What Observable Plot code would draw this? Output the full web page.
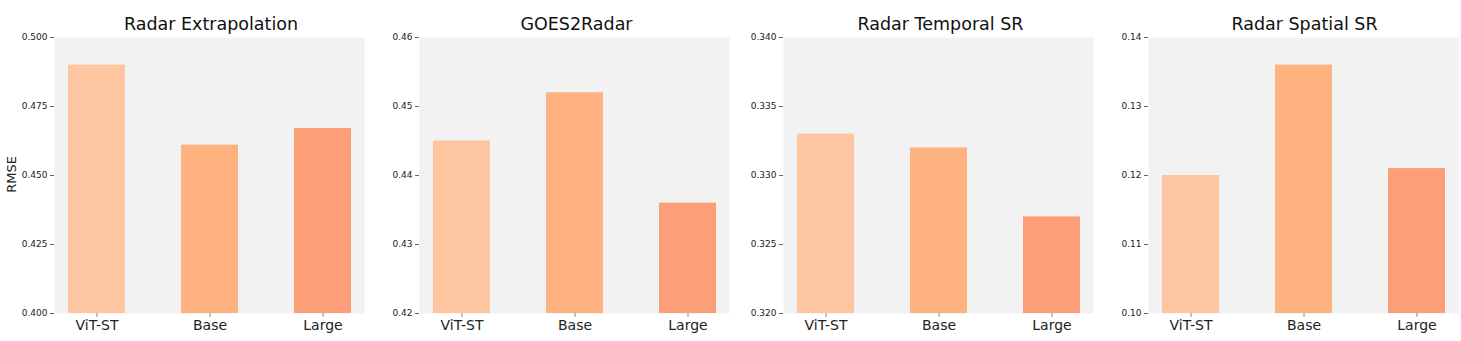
<!DOCTYPE html>
<html>
<head>
<meta charset="utf-8">
<script src="https://cdn.jsdelivr.net/npm/d3@7"></script>
<script src="https://cdn.jsdelivr.net/npm/@observablehq/plot@0.6"></script>
<style>
  body { margin: 0; background: #fff; font-family: "DejaVu Sans", sans-serif; }
  #root { position: relative; width: 1461px; height: 341px; overflow: hidden; }
  .panel { position: absolute; top: 0; }
  .title { height: 20px; padding-top: 14px; text-align: center; font-size: 17.5px; line-height: 20px; color: #111; white-space: nowrap; }
  .ylabel { position: absolute; left: -7px; top: 167px; transform: rotate(-90deg); font-size: 13px; color: #222; }
</style>
</head>
<body>
<div id="root"></div>
<script>
const models = ["ViT-ST", "Base", "Large"];
const colors = ["#fdc6a0", "#fdb27f", "#fc9e78"];

const titles = ["Radar Extrapolation", "GOES2Radar", "Radar Temporal SR", "Radar Spatial SR"];
const radarExtrapolation = [0.490, 0.461, 0.467];
const goes2Radar = [0.445, 0.452, 0.436];
const radarTemporalSR = [0.333, 0.332, 0.327];
const radarSpatialSR = [0.120, 0.136, 0.121];

const yDomains = [[0.40, 0.50], [0.42, 0.46], [0.32, 0.34], [0.10, 0.14]];
const yTicks = [
  [0.400, 0.425, 0.450, 0.475, 0.500],
  [0.42, 0.43, 0.44, 0.45, 0.46],
  [0.320, 0.325, 0.330, 0.335, 0.340],
  [0.10, 0.11, 0.12, 0.13, 0.14]
];
const tickFormats = [".3f", ".2f", ".3f", ".2f"];
const series = [radarExtrapolation, goes2Radar, radarTemporalSR, radarSpatialSR];

// layout: [svg left, svg width, marginLeft]
const layout = [[0, 368, 54], [365, 369, 54], [730, 368, 53], [1095, 366, 53]];

const root = document.getElementById("root");
series.forEach((vals, i) => {
  const data = models.map((m, j) => ({model: m, value: vals[j], color: colors[j]}));
  const [left, width, ml] = layout[i];
  const panel = document.createElement("div");
  panel.className = "panel";
  panel.style.left = left + "px";
  panel.style.width = width + "px";
  const t = document.createElement("div");
  t.className = "title";
  t.style.paddingLeft = ml + "px";
  t.textContent = titles[i];
  panel.appendChild(t);
  const plot = Plot.plot({
    width: width,
    height: 307,
    marginLeft: ml,
    marginRight: width - ml - 310,
    marginTop: 3,
    marginBottom: 28,
    style: {fontFamily: "DejaVu Sans, sans-serif", background: "transparent", overflow: "visible"},
    x: {domain: models, paddingInner: 0.5, paddingOuter: 0.12, label: null},
    y: {domain: yDomains[i], label: null},
    marks: [
      Plot.frame({fill: "#f2f2f2", stroke: null}),
      Plot.barY(data, {x: "model", y1: yDomains[i][0], y2: "value", fill: "color", clip: true}),
      Plot.axisY({ticks: yTicks[i], tickFormat: tickFormats[i], tickSize: 4, tickPadding: 3, fontSize: 9, stroke: "#666", fill: "#222", label: null}),
      Plot.axisX({tickSize: 4, tickPadding: 3, fontSize: 14, stroke: "#888", fill: "#222", label: null})
    ]
  });
  panel.appendChild(plot);
  root.appendChild(panel);
});
const yl = document.createElement("div");
yl.className = "ylabel";
yl.textContent = "RMSE";
root.appendChild(yl);
</script>
</body>
</html>
